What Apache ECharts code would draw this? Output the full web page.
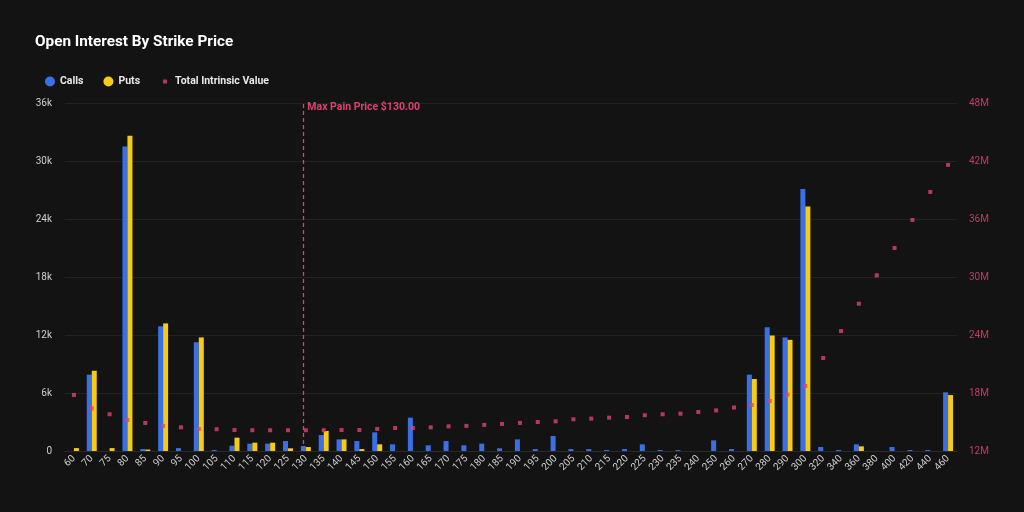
<!DOCTYPE html>
<html>
<head>
<meta charset="utf-8">
<script src="https://cdn.jsdelivr.net/npm/echarts@6/dist/echarts.min.js"></script>
<style>
  html, body { margin: 0; padding: 0; background: #131313; }
  #chart { width: 1024px; height: 512px; }
</style>
</head>
<body>
<div id="chart"></div>
<script>
// strike prices
const strikes = [
  '60', '70', '75', '80', '85', '90', '95', '100', '105', '110',
  '115', '120', '125', '130', '135', '140', '145', '150', '155', '160',
  '165', '170', '175', '180', '185', '190', '195', '200', '205', '210',
  '215', '220', '225', '230', '235', '240', '250', '260', '270', '280',
  '290', '300', '320', '340', '360', '380', '400', '420', '440', '460'
]
// open interest - calls
const calls = [
  0, 7900, 0, 31500, 200, 12900, 300, 11250, 100, 550,
  760, 760, 1030, 520, 1650, 1200, 1030, 1930, 690, 3450,
  590, 1030, 590, 760, 280, 1200, 200, 1550, 200, 200,
  100, 200, 690, 100, 100, 0, 1100, 200, 7900, 12800,
  11750, 27100, 410, 100, 690, 0, 410, 100, 100, 6070
]
// open interest - puts
const puts = [
  300, 8300, 300, 32600, 150, 13200, 0, 11750, 0, 1380,
  860, 860, 280, 410, 2070, 1200, 200, 690, 0, 0,
  0, 0, 0, 0, 0, 0, 0, 0, 0, 0,
  0, 0, 0, 0, 0, 0, 0, 0, 7450, 11950,
  11500, 25300, 0, 0, 480, 0, 0, 0, 0, 5790
]
// total intrinsic value (USD)
const intrinsic = [
  17.8, 16.4, 15.8, 15.2, 14.9, 14.6, 14.45, 14.28, 14.25, 14.17,
  14.15, 14.15, 14.15, 14.15, 14.15, 14.17, 14.17, 14.28, 14.38, 14.38,
  14.45, 14.55, 14.6, 14.7, 14.8, 14.9, 15.0, 15.07, 15.28, 15.35,
  15.45, 15.52, 15.7, 15.8, 15.86, 16.03, 16.2, 16.5, 16.76, 17.17,
  17.83, 18.72, 21.62, 24.41, 27.24, 30.17, 33.0, 35.9, 38.8, 41.6
].map(v => v * 1e6)
const maxPainStrike = '130'

const chart = echarts.init(document.getElementById('chart'))

chart.setOption({
  backgroundColor: '#131313',
  animation: false,
  textStyle: { fontFamily: 'Roboto, sans-serif' },
  title: {
    text: 'Open Interest By Strike Price',
    left: 30,
    top: 30,
    textStyle: { color: '#ffffff', fontSize: 15.3, fontWeight: 'bold' }
  },
  legend: {
    left: 40,
    top: 71,
    itemGap: 20,
    itemWidth: 10,
    itemHeight: 10,
    textStyle: { color: '#e8e8e8', fontSize: 10.5, fontWeight: 'bold' },
    data: [
      { name: 'Calls', icon: 'circle' },
      { name: 'Puts', icon: 'circle' },
      {
        name: 'Total Intrinsic Value',
        // small dot centred in a 10x10 box
        icon: 'path://M0,0M10,10M3,3L7,3L7,7L3,7Z'
      }
    ]
  },
  grid: { left: 65, right: 67, top: 103, bottom: 61 },
  xAxis: {
    type: 'category',
    data: strikes,
    axisLine: { lineStyle: { color: '#2a2a2a' } },
    axisTick: { show: false },
    axisLabel: { color: '#cfcfcf', fontSize: 10, rotate: 45, interval: 0, margin: 6 }
  },
  yAxis: [
    {
      type: 'value',
      min: 0,
      max: 36000,
      interval: 6000,
      axisLine: { show: false },
      axisTick: { show: false },
      splitLine: { lineStyle: { color: '#222222' } },
      axisLabel: {
        color: '#cfcfcf',
        fontSize: 10,
        margin: 13,
        formatter: v => v === 0 ? '0' : v / 1000 + 'k'
      }
    },
    {
      type: 'value',
      min: 12e6,
      max: 48e6,
      interval: 6e6,
      axisLine: { show: false },
      axisTick: { show: false },
      splitLine: { show: false },
      axisLabel: {
        color: '#c23b62',
        fontSize: 10,
        margin: 12,
        formatter: v => v / 1e6 + 'M'
      }
    }
  ],
  series: [
    {
      name: 'Calls',
      type: 'bar',
      data: calls,
      barWidth: 5,
      barGap: '0%',
      itemStyle: { color: '#3b70e4' },
      markLine: {
        symbol: ['none', 'none'],
        silent: true,
        lineStyle: { color: '#e0406e', type: [4, 3], width: 1.3, opacity: 1 },
        label: {
          position: 'end',
          formatter: 'Max Pain Price $130.00',
          color: '#e0406e',
          fontSize: 10.5,
          fontWeight: 'bold',
          align: 'left',
          offset: [4, 15]
        },
        data: [{ xAxis: maxPainStrike }]
      }
    },
    {
      name: 'Puts',
      type: 'bar',
      data: puts,
      barWidth: 5,
      itemStyle: { color: '#f7cb14' }
    },
    {
      name: 'Total Intrinsic Value',
      type: 'scatter',
      yAxisIndex: 1,
      data: intrinsic,
      symbol: 'rect',
      symbolSize: 4,
      itemStyle: { color: '#e0436f' }
    }
  ]
})
</script>
</body>
</html>
